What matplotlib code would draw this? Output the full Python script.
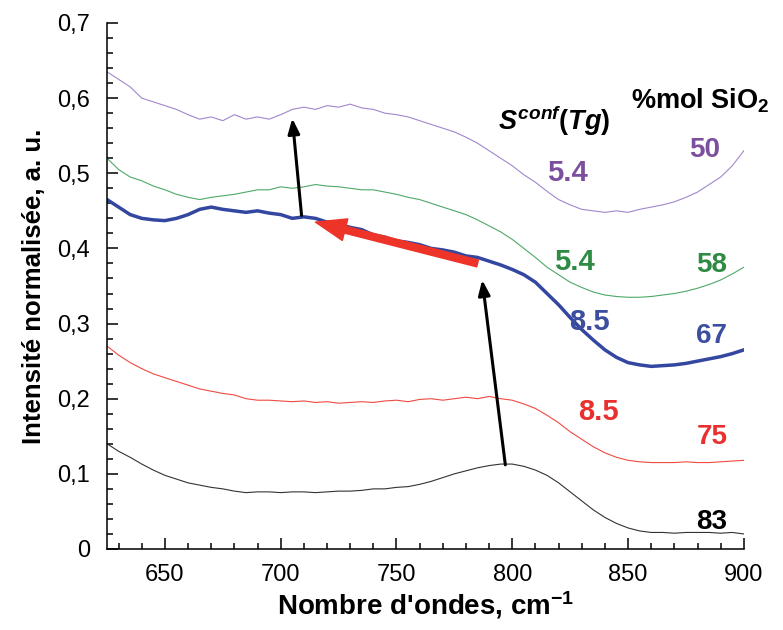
import numpy as np
import matplotlib
matplotlib.use("Agg")
import matplotlib.pyplot as plt
from matplotlib.ticker import MultipleLocator

plt.rcParams["font.family"] = ["Liberation Sans", "DejaVu Sans"]
plt.rcParams["mathtext.fontset"] = "custom"
plt.rcParams["mathtext.rm"] = "Liberation Sans:bold"
plt.rcParams["mathtext.it"] = "Liberation Sans:bold:italic"
plt.rcParams["mathtext.bf"] = "Liberation Sans:bold"

# Nombre d'ondes (cm-1), un point tous les 5 cm-1
wavenumber = np.arange(625, 901, 5)

# Spectres normalisés
sio2_50 = [0.635, 0.625, 0.615, 0.600, 0.595, 0.590, 0.585, 0.578, 0.572, 0.575,
           0.570, 0.578, 0.572, 0.575, 0.572, 0.578, 0.585, 0.588, 0.585, 0.590,
           0.588, 0.592, 0.587, 0.585, 0.580, 0.578, 0.575, 0.570, 0.565, 0.560,
           0.555, 0.548, 0.540, 0.530, 0.520, 0.510, 0.498, 0.488, 0.476, 0.465,
           0.458, 0.452, 0.450, 0.448, 0.450, 0.448, 0.452, 0.455, 0.458, 0.462,
           0.468, 0.475, 0.485, 0.495, 0.510, 0.530]
sio2_58 = [0.520, 0.505, 0.495, 0.490, 0.483, 0.478, 0.472, 0.468, 0.465, 0.468,
           0.470, 0.472, 0.475, 0.478, 0.478, 0.482, 0.480, 0.482, 0.485, 0.483,
           0.482, 0.480, 0.478, 0.478, 0.475, 0.472, 0.468, 0.465, 0.460, 0.455,
           0.450, 0.445, 0.438, 0.430, 0.422, 0.412, 0.400, 0.388, 0.375, 0.365,
           0.355, 0.348, 0.342, 0.338, 0.336, 0.335, 0.335, 0.336, 0.338, 0.340,
           0.343, 0.347, 0.352, 0.358, 0.366, 0.375]
sio2_67 = [0.465, 0.455, 0.445, 0.440, 0.438, 0.437, 0.440, 0.445, 0.452, 0.455,
           0.452, 0.450, 0.448, 0.450, 0.447, 0.445, 0.440, 0.442, 0.440, 0.435,
           0.432, 0.428, 0.425, 0.418, 0.415, 0.410, 0.408, 0.405, 0.400, 0.398,
           0.395, 0.390, 0.388, 0.383, 0.378, 0.372, 0.365, 0.355, 0.340, 0.325,
           0.308, 0.292, 0.278, 0.265, 0.255, 0.248, 0.245, 0.243, 0.244, 0.245,
           0.247, 0.250, 0.253, 0.256, 0.260, 0.265]
sio2_75 = [0.270, 0.258, 0.248, 0.240, 0.233, 0.228, 0.223, 0.218, 0.213, 0.210,
           0.207, 0.205, 0.200, 0.198, 0.198, 0.197, 0.196, 0.197, 0.195, 0.196,
           0.194, 0.195, 0.196, 0.195, 0.197, 0.198, 0.196, 0.199, 0.200, 0.198,
           0.200, 0.202, 0.200, 0.203, 0.200, 0.198, 0.193, 0.187, 0.178, 0.168,
           0.156, 0.146, 0.136, 0.128, 0.122, 0.118, 0.116, 0.115, 0.115, 0.115,
           0.116, 0.115, 0.115, 0.116, 0.117, 0.118]
sio2_83 = [0.140, 0.130, 0.122, 0.113, 0.105, 0.098, 0.093, 0.088, 0.085, 0.082,
           0.080, 0.077, 0.075, 0.076, 0.076, 0.075, 0.076, 0.076, 0.075, 0.076,
           0.077, 0.077, 0.078, 0.080, 0.080, 0.082, 0.083, 0.086, 0.090, 0.095,
           0.100, 0.104, 0.108, 0.111, 0.113, 0.113, 0.110, 0.105, 0.098, 0.088,
           0.076, 0.064, 0.052, 0.042, 0.034, 0.028, 0.024, 0.022, 0.022, 0.021,
           0.022, 0.022, 0.022, 0.021, 0.022, 0.020]

# Etiquettes : S conf(Tg) et %mol SiO2
sconf_labels = ["5.4", "5.4", "8.5", "8.5", ""]
sio2_labels = ["50", "58", "67", "75", "83"]

yticks = [0, 0.1, 0.2, 0.3, 0.4, 0.5, 0.6, 0.7]
ytick_labels = ["0", "0,1", "0,2", "0,3", "0,4", "0,5", "0,6", "0,7"]
xticks = [650, 700, 750, 800, 850, 900]

fig = plt.figure(figsize=(7.83, 6.30), dpi=100)
ax = fig.add_axes([0.1367, 0.1286, 0.8133, 0.8349])

ax.plot(wavenumber, sio2_50, color="#a287cc", lw=0.8)
ax.plot(wavenumber, sio2_58, color="#4fa868", lw=0.8)
ax.plot(wavenumber, sio2_67, color="#3346a0", lw=2.5)
ax.plot(wavenumber, sio2_75, color="#f04a44", lw=0.8)
ax.plot(wavenumber, sio2_83, color="#333333", lw=0.8)

# flèches
black_arrow = dict(arrowstyle="-|>,head_length=0.9,head_width=0.35",
                   color="black", lw=2.2, shrinkA=0, shrinkB=0)
ax.annotate("", xy=(787, 0.358), xytext=(797, 0.112), arrowprops=black_arrow)
ax.annotate("", xy=(705, 0.573), xytext=(709, 0.444), arrowprops=black_arrow)
ax.annotate("", xy=(715, 0.435), xytext=(785, 0.380),
            arrowprops=dict(width=5, headwidth=16, headlength=22,
                            color="#ee3328", shrink=0))

# textes
ax.text(818, 0.570, r"$\mathit{S^{conf}(Tg)}$", fontsize=19.5,
        ha="center", va="center")
ax.text(881, 0.597, r"%mol SiO$_\mathrm{2}$", fontsize=19.5, fontweight="bold",
        ha="center", va="center")

label_colors = ["#7b4f9e", "#2e8b43", "#3b4ea0", "#e8302e", "black"]
sconf_pos = [(824, 0.501), (827, 0.382), (833.5, 0.302), (837, 0.182), None]
sio2_pos = [(883, 0.531), (886, 0.378), (886, 0.283), (886.5, 0.149), (886, 0.036)]
for lab, pos, col in zip(sconf_labels, sconf_pos, label_colors):
    if pos is not None:
        ax.text(pos[0], pos[1], lab, color=col, fontsize=21,
                fontweight="bold", ha="center", va="center")
for lab, pos, col in zip(sio2_labels, sio2_pos, label_colors):
    ax.text(pos[0], pos[1], lab, color=col, fontsize=20,
            fontweight="bold", ha="center", va="center")

ax.set_xlim(625, 900)
ax.set_ylim(0, 0.7)
ax.set_xticks(xticks)
ax.set_yticks(yticks)
ax.set_yticklabels(ytick_labels)
ax.xaxis.set_minor_locator(MultipleLocator(10))
ax.yaxis.set_minor_locator(MultipleLocator(0.02))
ax.tick_params(which="both", direction="in", labelsize=17, width=1.1)
ax.tick_params(which="minor", length=4)
ax.tick_params(axis="x", which="major", length=8, pad=11)
ax.tick_params(axis="y", which="major", length=8, pad=12)
ax.spines["top"].set_visible(False)
ax.spines["right"].set_visible(False)
for s in ["left", "bottom"]:
    ax.spines[s].set_linewidth(1.1)

ax.set_xlabel(r"Nombre d'ondes, cm$^\mathrm{-1}$", fontsize=20,
              fontweight="bold", labelpad=2)
ax.set_ylabel("Intensité normalisée, a. u.", fontsize=18.5,
              fontweight="bold", labelpad=8)

fig.savefig("out.png", dpi=100)
